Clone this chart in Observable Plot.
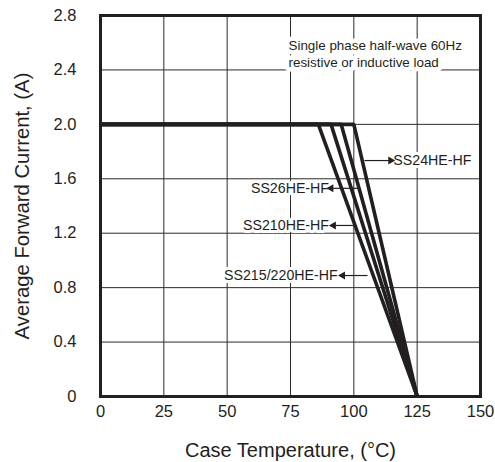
<!DOCTYPE html>
<html>
<head>
<meta charset="utf-8">
<script src="https://cdn.jsdelivr.net/npm/d3@7"></script>
<script src="https://cdn.jsdelivr.net/npm/@observablehq/plot@0.6"></script>
<style>
  html, body { margin: 0; padding: 0; background: #fff; }
  #chart svg { display: block; }
</style>
</head>
<body>
<div id="chart"></div>
<script>
// Devices and the case temperature at which derating starts (A stays at 2.0 until then)
const devices = ["SS24HE-HF", "SS26HE-HF", "SS210HE-HF", "SS215/220HE-HF"];
const kneeTemp = [100, 95, 91, 86];
const ratedCurrent = 2.0;
const maxTemp = 125;

const xTicks = [0, 25, 50, 75, 100, 125, 150];
const yTicks = [0, 0.4, 0.8, 1.2, 1.6, 2.0, 2.4, 2.8];

// Label callouts: text position, arrow from/to (data units)
const labelText = ["SS24HE-HF", "SS26HE-HF", "SS210HE-HF", "SS215/220HE-HF"];
const labelX = [115.6, 90.2, 90.2, 93.6];
const labelY = [1.734, 1.53, 1.257, 0.889];
const labelSide = ["right", "left", "left", "left"];
const arrowFrom = [104.2, 101.9, 100.0, 105.4];
const arrowTo = [114.5, 91.0, 92.0, 95.6];

const note = "Single phase half-wave 60Hz\nresistive or inductive load";

const lines = devices.flatMap((d, i) => [
  {device: d, t: 0, a: ratedCurrent},
  {device: d, t: kneeTemp[i], a: ratedCurrent},
  {device: d, t: maxTemp, a: 0}
]);
const labels = labelText.map((t, i) => ({
  text: t, x: labelX[i], y: labelY[i], side: labelSide[i],
  x1: arrowFrom[i], x2: arrowTo[i], dir: arrowTo[i] > arrowFrom[i] ? 90 : -90
}));

const font = "'Liberation Sans', Arial, Helvetica, sans-serif";
const ink = "#231f20";

const plot = Plot.plot({
  width: 495,
  height: 462,
  marginLeft: 100,
  marginRight: 15,
  marginTop: 15,
  marginBottom: 66,
  style: {fontFamily: font, background: "#fff", color: ink},
  x: {domain: [0, 150], ticks: xTicks, label: null},
  y: {domain: [0, 2.8], ticks: yTicks, label: null},
  marks: [
    Plot.gridX(xTicks.slice(1, -1), {stroke: "#2b2b2b", strokeOpacity: 1, strokeWidth: 1}),
    Plot.gridY(yTicks.slice(1, -1), {stroke: "#2b2b2b", strokeOpacity: 1, strokeWidth: 1}),
    Plot.axisX({ticks: xTicks, tickSize: 0, tickPadding: 9, fontSize: 16.5, label: null,
      tickFormat: d => String(d)}),
    Plot.axisY({ticks: yTicks, tickSize: 0, tickPadding: 24, fontSize: 16.5, label: null,
      tickFormat: d => d === 0 ? "0" : d.toFixed(1)}),
    Plot.text([note], {
      x: 74.2, y: 2.525, text: d => d, textAnchor: "start", fontSize: 13.4, lineHeight: 1.27,
      fill: ink, stroke: "white", strokeWidth: 9
    }),
    Plot.text(labels.filter(d => d.side === "right"), {
      x: "x", y: "y", text: "text", textAnchor: "start", fontSize: 14.2,
      fill: ink, stroke: "white", strokeWidth: 6
    }),
    Plot.text(labels.filter(d => d.side === "left"), {
      x: "x", y: "y", text: "text", textAnchor: "end", fontSize: 14.2,
      fill: ink, stroke: "white", strokeWidth: 6
    }),
    Plot.link(labels, {x1: "x1", x2: "x2", y1: "y", y2: "y", stroke: ink, strokeWidth: 1.2}),
    Plot.dot(labels, {x: "x2", y: "y", symbol: "triangle", r: 3, rotate: "dir", fill: ink, stroke: "none"}),
    Plot.line(lines, {x: "t", y: "a", z: "device", stroke: ink, strokeWidth: 3.6,
      strokeLinejoin: "miter", strokeLinecap: "butt"}),
    Plot.frame({stroke: ink, strokeWidth: 3}),
    Plot.text(["Case Temperature, (°C)"], {
      frameAnchor: "bottom", lineAnchor: "middle", textAnchor: "middle", dy: 54,
      text: d => d, fontSize: 20, fill: ink
    }),
    Plot.text(["Average Forward Current, (A)"], {
      frameAnchor: "left", textAnchor: "middle", lineAnchor: "middle", dx: -78, rotate: -90,
      text: d => d, fontSize: 20.3, fill: ink
    })
  ]
});

document.getElementById("chart").appendChild(plot);
</script>
</body>
</html>
